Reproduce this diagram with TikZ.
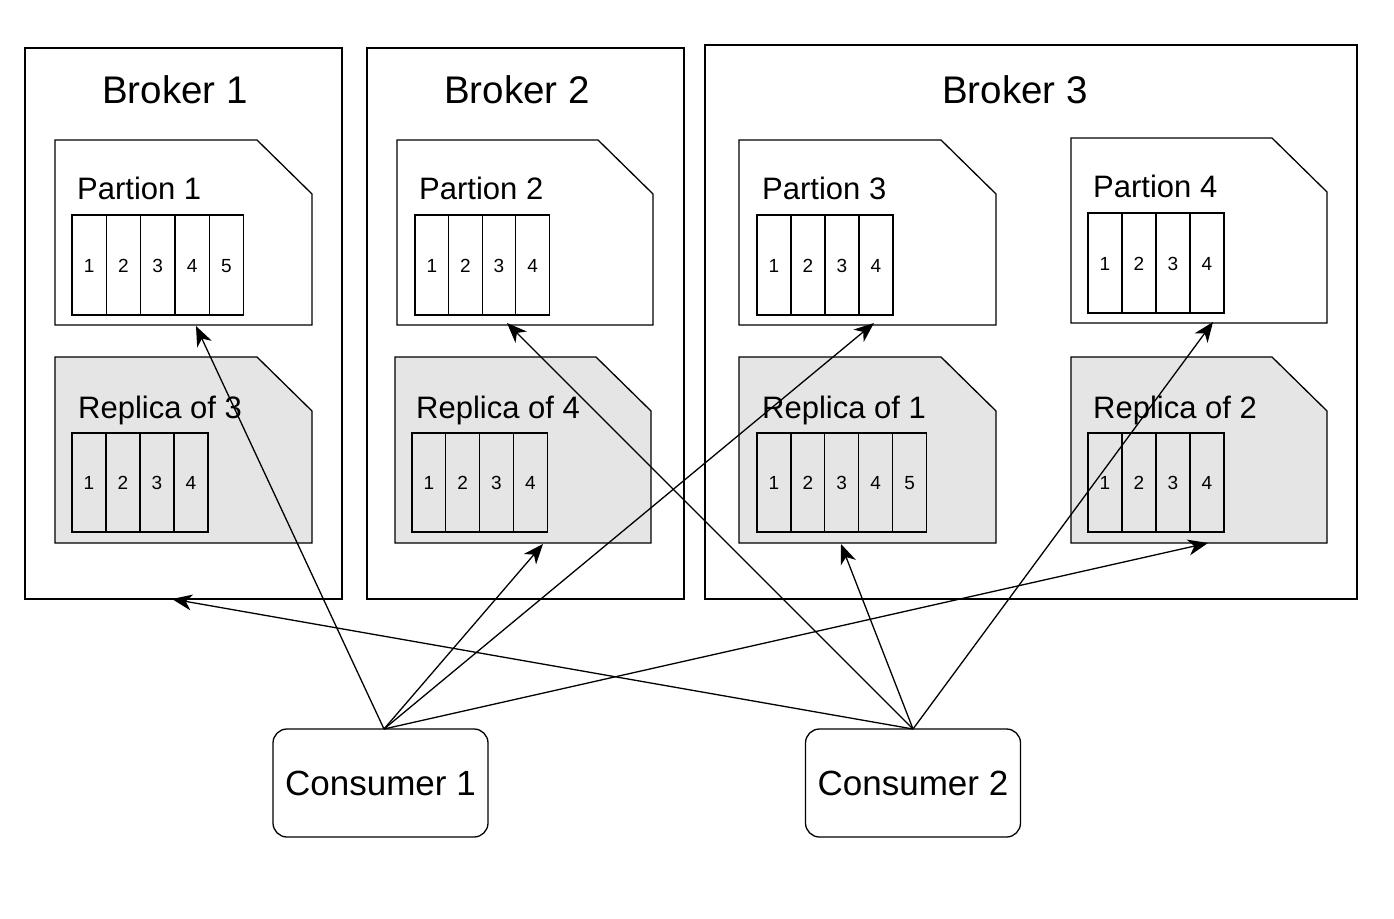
\documentclass[tikz,border=0pt]{standalone}
\usepackage{fontspec}
\setmainfont{Liberation Sans}
\usetikzlibrary{arrows.meta}
\tikzset{
  brokerbox/.style={draw, line width=1.3pt},
  cardshape/.style={draw, line width=1.3pt},
  cellbox/.style={draw, line width=1.3pt},
  titletext/.style={font=\fontsize{38.5}{44}\selectfont, anchor=base, inner sep=0pt},
  cardtext/.style={font=\fontsize{31}{36}\selectfont, anchor=base west, inner sep=0pt},
  celltext/.style={font=\fontsize{19}{22}\selectfont, anchor=base, inner sep=0pt},
  consumer/.style={draw, line width=1.3pt, rounded corners=14pt, minimum width=215pt, minimum height=108pt, font=\fontsize{35}{40}\selectfont, inner sep=0pt},
  link/.style={line width=1.3pt, -{Stealth[length=20pt,width=16pt,inset=6pt]}},
}
\newcommand{\mycard}[6]{% name, x1,y1,x2,y2, fill
  \draw[cardshape, fill=#6] (#2,#3) -- (#4-55,#3) -- (#4,#3+54) -- (#4,#5) -- (#2,#5) -- cycle;
  \coordinate (#1-sw) at (#2,#5);
}
\newcommand{\mycells}[5]{% x0, ytop, ybot, n, width
  \foreach \k in {1,...,#4}{
    \draw[cellbox] ({#1+(\k-1)*#5},#2) rectangle ({#1+\k*#5},#3);
    \node[celltext] at ({#1+(\k-0.5)*#5},{(#2+#3)/2+7}) {\k};
  }
}
\begin{document}
\begin{tikzpicture}[x=1pt,y=-1pt]
\useasboundingbox (0,0) rectangle (1394,918);
\fill[white] (0,0) rectangle (1394,918);
% brokers
\draw[brokerbox] (25,48) rectangle (342,599);
\draw[brokerbox] (367,48) rectangle (684,599);
\draw[brokerbox] (705,45) rectangle (1357,599);
\node[titletext] (b1) at (175,103) {Broker 1};
\node[titletext] (b2) at (517,103) {Broker 2};
\node[titletext] (b3) at (1015,103) {Broker 3};
% cards
\mycard{p1}{55}{140}{312}{325}{white}
\mycard{r3}{55}{357}{312}{543}{black!10}
\mycard{p2}{397}{140}{653}{325}{white}
\mycard{r4}{395}{357}{651}{543}{black!10}
\mycard{p3}{739}{140}{996}{325}{white}
\mycard{r1}{739}{357}{996}{543}{black!10}
\mycard{p4}{1071}{138}{1327}{323}{white}
\mycard{r2}{1071}{357}{1327}{543}{black!10}
% cells
\mycells{72}{215}{315}{5}{34.3}
\mycells{72}{433}{532}{4}{34}
\mycells{415}{215}{315}{4}{33.6}
\mycells{412}{433}{532}{4}{33.8}
\mycells{757}{215}{315}{4}{34}
\mycells{757}{433}{532}{5}{33.9}
\mycells{1088}{213}{313}{4}{34}
\mycells{1088}{433}{532}{4}{34}
% labels
\node[cardtext] (lp1) at (77,199) {Partion 1};
\node[cardtext] (lr3) at (78,418) {Replica of 3};
\node[cardtext] (lp2) at (419,199) {Partion 2};
\node[cardtext] (lr4) at (416,418) {Replica of 4};
\node[cardtext] (lp3) at (762,199) {Partion 3};
\node[cardtext] (lr1) at (762,418) {Replica of 1};
\node[cardtext] (lp4) at (1093,197) {Partion 4};
\node[cardtext] (lr2) at (1093,418) {Replica of 2};
% consumers
\node[consumer] (c1) at (380.5,783) {Consumer 1};
\node[consumer] (c2) at (913,783) {Consumer 2};
\coordinate (c1top) at (384,729);
\coordinate (c2top) at (913,729);
% arrow targets
\coordinate (tp1) at (196,326);
\coordinate (tp2) at (507,323);
\coordinate (tp3) at (874,323);
\coordinate (tp4) at (1213,322);
\coordinate (tb1) at (172,599);
\coordinate (tr4) at (543,544);
\coordinate (tr1) at (841,544);
\coordinate (tr2) at (1208,543);
% connectors
\draw[link] (c1top) -- (tp1);
\draw[link] (c1top) -- (tr4);
\draw[link] (c1top) -- (tp3);
\draw[link] (c1top) -- (tr2);
\draw[link] (c2top) -- (tb1);
\draw[link] (c2top) -- (tp2);
\draw[link] (c2top) -- (tr1);
\draw[link] (c2top) -- (tp4);
\end{tikzpicture}
\end{document}
